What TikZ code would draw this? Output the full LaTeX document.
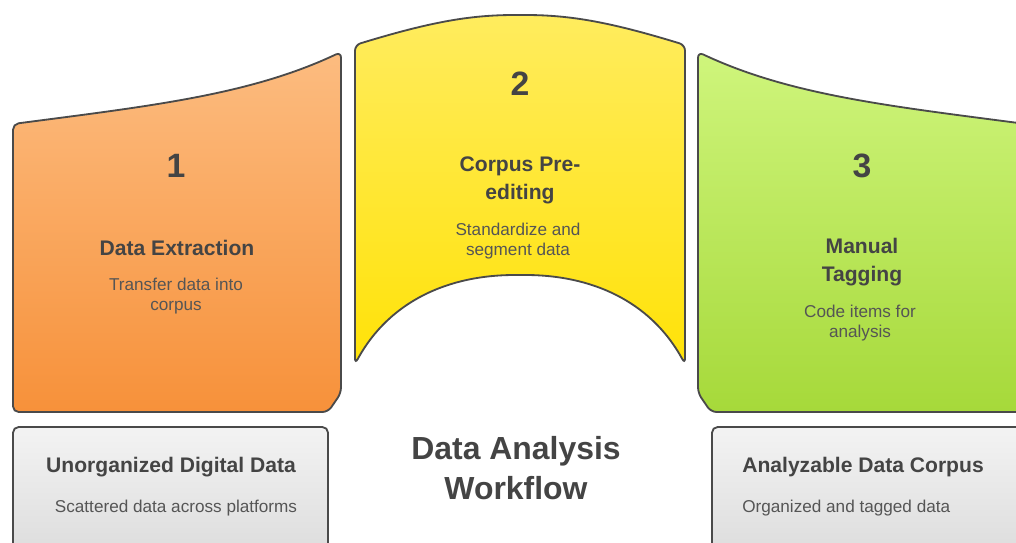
\documentclass[tikz,border=0pt]{standalone}
\usepackage{fontspec}
\setmainfont{Liberation Sans}
\usetikzlibrary{positioning}

\definecolor{edgegray}{HTML}{4A4A4A}
\definecolor{txtdark}{HTML}{444444}
\definecolor{txtsoft}{HTML}{555555}
\definecolor{orangetop}{HTML}{FCBC80}
\definecolor{orangebot}{HTML}{F7913A}
\definecolor{yellowtop}{HTML}{FFEC5E}
\definecolor{yellowbot}{HTML}{FFE208}
\definecolor{greentop}{HTML}{CFF57C}
\definecolor{greenbot}{HTML}{A6D93A}
\definecolor{graytop}{HTML}{F3F3F3}
\definecolor{graybot}{HTML}{DADADA}

\tikzset{
  stagebox/.style={draw=edgegray,line width=1.3pt,rounded corners=4pt},
  numtxt/.style={font=\bfseries\fontsize{24}{28}\selectfont,text=txtdark},
  headtxt/.style={font=\bfseries\fontsize{15}{19.8}\selectfont,text=txtdark,align=center},
  subtxt/.style={font=\fontsize{12.2}{14.2}\selectfont,text=txtsoft,align=center},
}

\begin{document}
\begin{tikzpicture}[x=0.025cm,y=-0.025cm]
\clip (0,0) rectangle (1016,542);

% stage 1
\draw[stagebox,top color=orangetop,bottom color=orangebot]
  (13,124) .. controls (150,106) and (250,95) .. (341,52) -- (341,393) -- (328,412) -- (13,412) -- cycle;
% stage 2
\draw[stagebox,top color=yellowtop,bottom color=yellowbot]
  (355,45) .. controls (430,22) and (470,15) .. (520,15) .. controls (570,15) and (610,22) .. (685,45)
  -- (685,364) .. controls (650,300) and (590,275) .. (520,275) .. controls (450,275) and (390,300) .. (355,364) -- cycle;
% stage 3
\draw[stagebox,top color=greentop,bottom color=greenbot]
  (698,52) .. controls (789,95) and (889,106) .. (1026,124) -- (1026,412) -- (711,412) -- (698,393) -- cycle;
% start and end boxes
\draw[stagebox,top color=graytop,bottom color=graybot] (13,427) rectangle (328,570);
\draw[stagebox,top color=graytop,bottom color=graybot] (712,427) rectangle (1040,570);

\node[numtxt] (num_a) at (176,166) {1};
\node[headtxt] (head_a) at (177,248) {Data Extraction};
\node[subtxt] (sub_a) at (176,296) {Transfer data into\\corpus};

\node[numtxt] (num_b) at (520,84) {2};
\node[headtxt] (head_b) at (520,180) {Corpus Pre-\\editing};
\node[subtxt] (sub_b) at (518,241) {Standardize and\\segment data};

\node[numtxt] (num_c) at (862,166) {3};
\node[headtxt] (head_c) at (862,262) {Manual\\Tagging};
\node[subtxt] (sub_c) at (860,323) {Code items for\\analysis};

\node[headtxt] (src_head) at (171,467) {Unorganized Digital Data};
\node[subtxt] (src_sub) at (176,508) {Scattered data across platforms};

\node[font=\bfseries\fontsize{22.7}{28}\selectfont,text=txtdark,align=center] (flow_title) at (516,468) {Data Analysis\\Workflow};

\node[headtxt,anchor=west,inner xsep=0pt] (out_head) at (742,467) {Analyzable Data Corpus};
\node[subtxt,anchor=west,inner xsep=0pt] (out_sub) at (742,508) {Organized and tagged data};
\end{tikzpicture}
\end{document}
